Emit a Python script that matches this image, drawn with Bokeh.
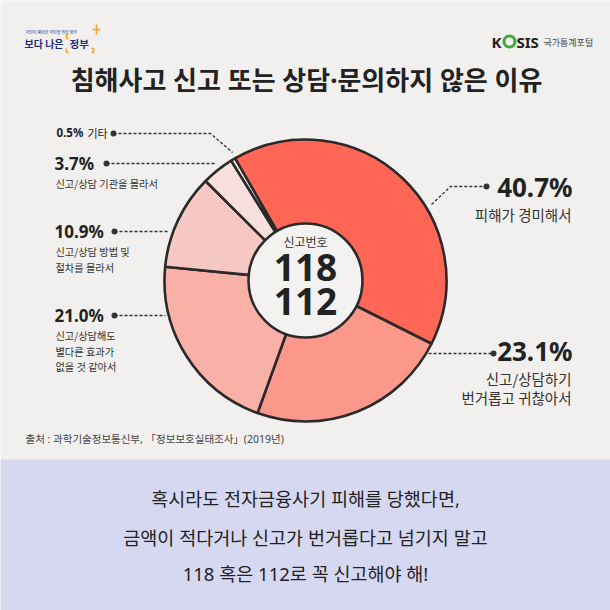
import math
from bokeh.plotting import figure
from bokeh.models import Range1d, ColumnDataSource
from bokeh.core.properties import value
from bokeh.embed import file_html
from bokeh.resources import INLINE

# ---------------- data ----------------
reasons = ["피해가 경미해서", "신고/상담하기 번거롭고 귀찮아서", "신고/상담해도 별다른 효과가 없을 것 같아서",
           "신고/상담 방법 및 절차를 몰라서", "신고/상담 기관을 몰라서", "기타"]
shares = [40.7, 23.1, 21.0, 10.9, 3.7, 0.5]
slice_colors = ["#FF6655", "#FC978B", "#F8B0A7", "#F6C8C4", "#F6DFDD", "#F3F1F0"]
title = "침해사고 신고 또는 상담·문의하지 않은 이유"
center_caption = "신고번호"
center_numbers = ["118", "112"]
source_text = "출처 : 과학기술정보통신부, 「정보보호실태조사」(2019년)"
message_lines = ["혹시라도 전자금융사기 피해를 당했다면,",
                 "금액이 적다거나 신고가 번거롭다고 넘기지 말고",
                 "118 혹은 112로 꼭 신고해야 해!"]

W = H = 610
FONT = value("Noto Sans, Noto Sans CJK KR")
KFONT = value("Noto Sans CJK KR")
DARK = "#2A2A2A"
BG = "#F1F0EE"


def Y(y):
    return H - y


p = figure(width=W, height=H, x_range=Range1d(0, W), y_range=Range1d(0, H),
           output_backend="svg", toolbar_location=None,
           x_axis_location=None, y_axis_location=None, min_border=0)
p.grid.visible = False
p.outline_line_color = None
p.background_fill_color = BG
p.border_fill_color = BG

# bottom band
p.quad(left=0, right=W, bottom=Y(610), top=Y(459), fill_color="#D6D8F1", line_color=None)

# ---------------- donut ----------------
cx, cy, R, r_in = 305, 280, 141, 57
offset = -30.0  # degrees clockwise from 12 o'clock where first slice starts
total = sum(shares)
starts, ends = [], []
acc = 0.0
for v in shares:
    a0 = offset + acc / total * 360
    acc += v
    a1 = offset + acc / total * 360
    starts.append(math.radians(90 - a0))
    ends.append(math.radians(90 - a1))

src = ColumnDataSource(dict(start=starts, end=ends, color=slice_colors, name=reasons, share=shares))
p.wedge(x=cx, y=Y(cy), radius=R, start_angle="start", end_angle="end", direction="clock",
        fill_color="color", line_color=DARK, line_width=2.6, source=src)
p.scatter(x=[cx], y=[Y(cy)], size=2 * r_in, marker="circle", fill_color="#F3F2F1",
          line_color=DARK, line_width=2.6)

# center texts
p.text(x=[cx], y=[Y(241)], text=[center_caption], text_font=KFONT, text_font_size="12px",
       text_color="#333333", text_align="center", text_baseline="middle")
p.text(x=[cx, cx], y=[Y(267), Y(301)], text=center_numbers, text_font=FONT, text_font_size="37px",
       text_font_style="bold", text_color="#222222", text_align="center", text_baseline="middle")

# ---------------- title / logos ----------------
p.text(x=[W / 2 + 1], y=[Y(79)], text=[title], text_font=FONT, text_font_size="26px",
       text_font_style="bold", text_color="#222222", text_align="center", text_baseline="middle")

# left logo
p.text(x=[25], y=[Y(31)], text=["국민이 편리한 국민을 위한 정부"], text_font=KFONT, text_font_size="4px",
       text_color="#1B2A7A", text_baseline="middle")
p.text(x=[24], y=[Y(43)], text=["보다 나은"], text_font=KFONT, text_font_size="10px",
       text_font_style="bold", text_color="#1D2B80", text_baseline="middle")
p.text(x=[69], y=[Y(43)], text=["정부"], text_font=KFONT, text_font_size="10.5px",
       text_font_style="bold", text_color="#1D2B80", text_baseline="middle")
orange = "#F5A623"
p.multi_line(xs=[[68, 66, 66, 68], [66, 66], [66, 68], [91, 93, 93, 91], [96, 96], [92, 100]],
             ys=[[Y(34), Y(34), Y(38), Y(38)], [Y(48), Y(52)], [Y(52), Y(52)],
                 [Y(52), Y(52), Y(48), Y(48)], [Y(24), Y(34)], [Y(29), Y(29)]],
             line_color=orange, line_width=1.6)

# KOSIS logo
p.text(x=[491], y=[Y(41)], text=["K"], text_font=FONT, text_font_size="15px",
       text_font_style="bold", text_color="#222222", text_baseline="middle")
p.scatter(x=[509], y=[Y(41)], size=11, marker="circle", fill_color=None, line_color="#3DAA3A", line_width=3)
p.text(x=[516], y=[Y(41)], text=["SIS"], text_font=FONT, text_font_size="15px",
       text_font_style="bold", text_color="#222222", text_baseline="middle")
p.text(x=[543], y=[Y(42)], text=["국가통계포털"], text_font=KFONT, text_font_size="9px",
       text_color="#444444", text_baseline="middle")

# ---------------- labels ----------------
LINE = dict(line_color="#333333", line_width=1.3, line_dash="3 2")

# left: 0.5%
p.text(x=[56], y=[Y(132)], text=["0.5%"], text_font=FONT, text_font_size="11.5px",
       text_font_style="bold", text_color="#222222", text_baseline="middle")
p.text(x=[87], y=[Y(132)], text=["기타"], text_font=KFONT, text_font_size="11px",
       text_color="#222222", text_baseline="middle")
p.line(x=[113, 210, 232], y=[Y(133), Y(133), Y(152)], **LINE)

# left: 3.7%
p.text(x=[54], y=[Y(163)], text=["3.7%"], text_font=FONT, text_font_size="17px",
       text_font_style="bold", text_color="#222222", text_baseline="middle")
p.text(x=[55], y=[Y(183)], text=["신고/상담 기관을 몰라서"], text_font=KFONT, text_font_size="10.2px",
       text_color="#333333", text_baseline="middle")
p.line(x=[106, 216], y=[Y(163), Y(163)], **LINE)

# left: 10.9%
p.text(x=[54], y=[Y(231)], text=["10.9%"], text_font=FONT, text_font_size="17px",
       text_font_style="bold", text_color="#222222", text_baseline="middle")
p.text(x=[55, 55], y=[Y(251), Y(267)], text=["신고/상담 방법 및", "절차를 몰라서"], text_font=KFONT,
       text_font_size="10.2px", text_color="#333333", text_baseline="middle")
p.line(x=[114, 168], y=[Y(231), Y(231)], **LINE)

# left: 21.0%
p.text(x=[54], y=[Y(315)], text=["21.0%"], text_font=FONT, text_font_size="17px",
       text_font_style="bold", text_color="#222222", text_baseline="middle")
p.text(x=[55, 55, 55], y=[Y(335), Y(351), Y(366)], text=["신고/상담해도", "별다른 효과가", "없을 것 같아서"],
       text_font=KFONT, text_font_size="10.2px", text_color="#333333", text_baseline="middle")
p.line(x=[114, 165], y=[Y(315), Y(315)], **LINE)

# right: 40.7%
p.text(x=[572], y=[Y(186)], text=["40.7%"], text_font=FONT, text_font_size="26px",
       text_font_style="bold", text_color="#222222", text_align="right", text_baseline="middle")
p.text(x=[571], y=[Y(214)], text=["피해가 경미해서"], text_font=KFONT, text_font_size="14.5px",
       text_color="#333333", text_align="right", text_baseline="middle")
p.line(x=[431, 450, 486], y=[Y(204), Y(186), Y(186)], **LINE)

# right: 23.1%
p.text(x=[572], y=[Y(350)], text=["23.1%"], text_font=FONT, text_font_size="26px",
       text_font_style="bold", text_color="#222222", text_align="right", text_baseline="middle")
p.text(x=[571, 571], y=[Y(378), Y(397)], text=["신고/상담하기", "번거롭고 귀찮아서"], text_font=KFONT,
       text_font_size="14.5px", text_color="#333333", text_align="right", text_baseline="middle")
p.line(x=[428, 493], y=[Y(353), Y(353)], **LINE)

# dots
p.scatter(x=[113, 106, 114, 114, 486, 493], y=[Y(133), Y(163), Y(231), Y(315), Y(186), Y(353)],
          size=6, marker="circle", fill_color="#333333", line_color=None)

# source
p.text(x=[25], y=[Y(438)], text=[source_text], text_font=FONT, text_font_size="10.5px",
       text_color="#444444", text_baseline="middle")

# bottom message
p.text(x=[W / 2] * 3, y=[Y(498), Y(537), Y(573)], text=message_lines, text_font=FONT,
       text_font_size="18.5px", text_color="#222222", text_align="center", text_baseline="middle")

open("out.html", "w").write(file_html(p, INLINE))
